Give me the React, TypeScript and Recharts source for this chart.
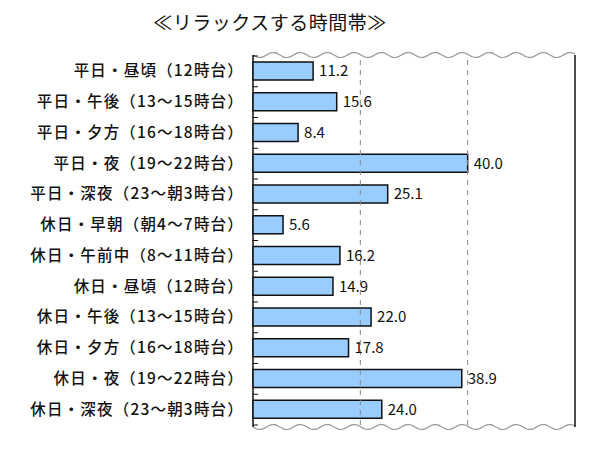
import { BarChart, Bar, XAxis, YAxis, ReferenceLine, LabelList, Customized } from 'recharts'

const categories = [
  '平日・昼頃（12時台）',
  '平日・午後（13〜15時台）',
  '平日・夕方（16〜18時台）',
  '平日・夜（19〜22時台）',
  '平日・深夜（23〜朝3時台）',
  '休日・早朝（朝4〜7時台）',
  '休日・午前中（8〜11時台）',
  '休日・昼頃（12時台）',
  '休日・午後（13〜15時台）',
  '休日・夕方（16〜18時台）',
  '休日・夜（19〜22時台）',
  '休日・深夜（23〜朝3時台）',
]
const values = [11.2, 15.6, 8.4, 40.0, 25.1, 5.6, 16.2, 14.9, 22.0, 17.8, 38.9, 24.0]
const gridTicks = [20, 40]
const axisMax = 60

const data = categories.map((name, i) => ({ name, value: values[i] }))

const FONT = '"Noto Sans CJK JP", "Noto Sans", sans-serif'
const W = 600
const H = 450
const M = { top: 56, right: 25, bottom: 25, left: 0 }
const AXIS_W = 253
const BAND = (H - M.top - M.bottom) / categories.length

// wavy break lines top and bottom of the plot
function Waves() {
  const x0 = AXIS_W
  const x1 = W - M.right
  const wave = (y: number) => {
    let d = `M${x0},${y}`
    for (let x = x0; x <= x1; x += 2) {
      d += ` L${x},${(y + 2.5 * Math.sin(((x - x0) / 27) * Math.PI * 2)).toFixed(2)}`
    }
    return d
  }
  const top = M.top - 1
  const bottom = H - M.bottom + 2
  return (
    <g>
      <text x={270} y={30} textAnchor="middle" fontFamily={FONT} fontSize={19} fill="#111" letterSpacing={0.5}>
        ≪リラックスする時間帯≫
      </text>
      <path d={wave(top)} fill="none" stroke="#999" strokeWidth={1.2} />
      <path d={wave(bottom)} fill="none" stroke="#999" strokeWidth={1.2} />
      <line x1={x1} y1={top} x2={x1} y2={bottom} stroke="#111" strokeWidth={1.5} />
      <line x1={x0} y1={top} x2={x0} y2={bottom} stroke="#111" strokeWidth={1.5} />
    </g>
  )
}

function CatTick(props: any) {
  const { y, payload, index } = props
  const yTop = y - BAND / 2
  const yBot = y + BAND / 2
  return (
    <g>
      <text
        x={AXIS_W - 9}
        y={y}
        dy={5}
        textAnchor="end"
        fontFamily={FONT}
        fontSize={15.5}
        fontWeight={500}
        fill="#111"
        letterSpacing={1.2}
      >
        {payload.value}
      </text>
      <line x1={AXIS_W} y1={yTop} x2={AXIS_W + 5} y2={yTop} stroke="#111" />
      {index === categories.length - 1 && (
        <line x1={AXIS_W} y1={yBot} x2={AXIS_W + 5} y2={yBot} stroke="#111" />
      )}
    </g>
  )
}

export default function App() {
  return (
    <div style={{ position: 'absolute', left: 0, top: 0, width: W, height: H, background: '#fff' }}>
      <BarChart width={W} height={H} data={data} layout="vertical" margin={M}>
        <XAxis type="number" domain={[0, axisMax]} hide />
        <YAxis
          type="category"
          dataKey="name"
          width={AXIS_W}
          axisLine={false}
          tickLine={false}
          tick={<CatTick />}
          interval={0}
        />
        {gridTicks.map((t) => (
          <ReferenceLine key={t} x={t} stroke="#888" strokeDasharray="5 5" />
        ))}
        <Bar dataKey="value" fill="#99CCFF" stroke="#111" strokeWidth={1.5} barSize={18} isAnimationActive={false}>
          <LabelList
            dataKey="value"
            position="right"
            offset={6}
            formatter={(v: any) => Number(v).toFixed(1)}
            fontFamily={FONT}
            fontSize={15}
            fill="#111"
          />
        </Bar>
        <Customized component={<Waves />} />
      </BarChart>
    </div>
  )
}
